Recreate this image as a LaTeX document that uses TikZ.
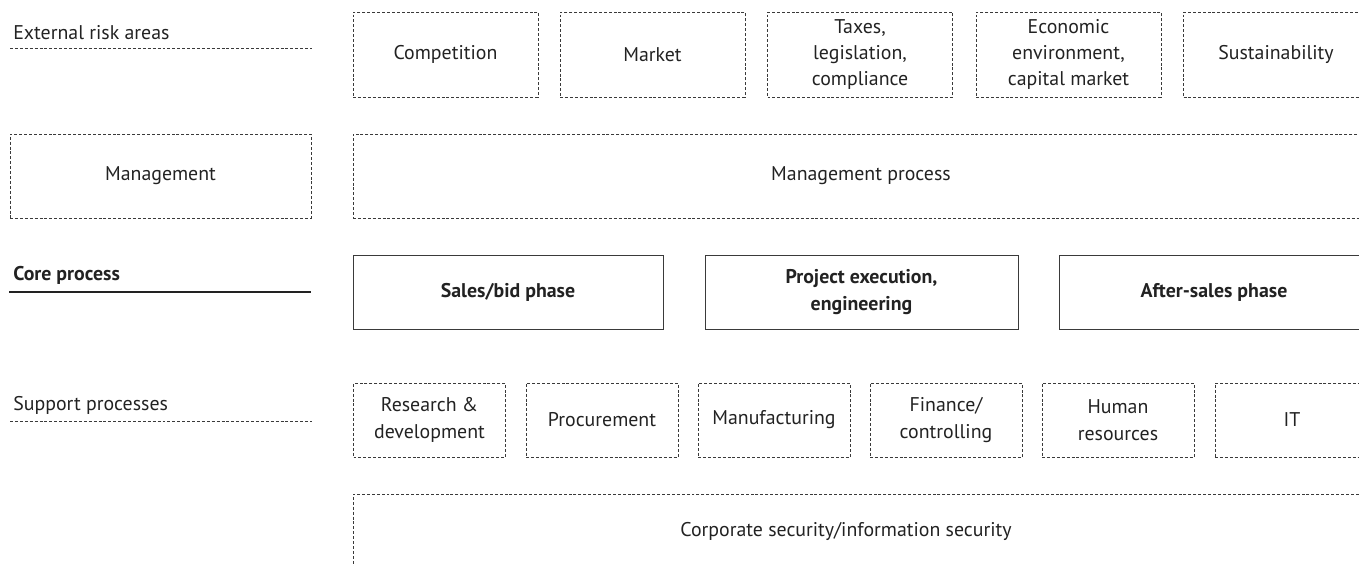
\documentclass[tikz,border=0pt]{standalone}
\usepackage{fontspec}
\setmainfont{PT Sans}
\begin{document}
\definecolor{ink}{HTML}{222222}
\definecolor{rule}{HTML}{3A3A3A}
\begin{tikzpicture}[
  x=0.02cm, y=-0.02cm,
  every node/.style={font=\fontsize{11.3}{15}\selectfont, text=ink},
  dashbox/.style={draw=rule, line width=0.45pt, dash pattern=on 1.7pt off 1.1pt,
    align=center, inner sep=0pt, outer sep=0pt},
  corebox/.style={draw=rule, line width=0.55pt, align=center, inner sep=0pt,
    outer sep=0pt, font=\fontsize{11.3}{15}\selectfont\bfseries},
  dotrule/.style={draw=rule, line width=0.45pt, dash pattern=on 1.7pt off 1.1pt},
  solidrule/.style={draw=ink, line width=0.65pt},
  sidelabel/.style={anchor=base west, inner sep=0pt},
  topw/.style={minimum width=185*0.02cm, minimum height=85*0.02cm},
  supw/.style={minimum width=152*0.02cm, minimum height=74*0.02cm},
  corew/.style={minimum height=74*0.02cm},
]
\useasboundingbox (0,0) rectangle (1359,565);
\clip (0,0) rectangle (1359,565);

% row labels with their rules
\node[sidelabel] (lext) at (13,39) {External risk areas};
\coordinate (lexta) at (10,48);
\coordinate (lextb) at (312,48);
\draw[dotrule] (lexta) -- (lextb);

\node[sidelabel, font=\fontsize{11.3}{15}\selectfont\bfseries] (lcore) at (13,280) {Core process};
\coordinate (lcorea) at (9,292);
\coordinate (lcoreb) at (311,292);
\draw[solidrule] (lcorea) -- (lcoreb);

\node[sidelabel] (lsup) at (13,410) {Support processes};
\coordinate (lsupa) at (10,421);
\coordinate (lsupb) at (312,421);
\draw[dotrule] (lsupa) -- (lsupb);

% external risk areas
\node[dashbox, topw] (comp) at (445.5,54.5) {Competition};
\node[dashbox, topw] (mark) at (652.5,54.5) {Market};
\node[dashbox, topw] (tax)  at (860,54.5) {Taxes,\\legislation,\\compliance};
\node[dashbox, topw] (econ) at (1068.5,54.5) {Economic\\environment,\\capital market};
\node[dashbox, topw] (sust) at (1276,54.5) {Sustainability};

% management
\node[dashbox, minimum width=301*0.02cm, minimum height=84*0.02cm] (mgmt) at (160.5,176) {Management};
\node[dashbox, minimum width=1016*0.02cm, minimum height=84*0.02cm] (mproc) at (861,176) {Management process};

% core process
\node[corebox, corew, minimum width=310*0.02cm] (sales) at (508,292) {Sales/bid phase};
\node[corebox, corew, minimum width=313*0.02cm] (proj) at (861.5,292) {Project execution,\\engineering};
\node[corebox, corew, minimum width=310*0.02cm] (after) at (1214,292) {After-sales phase};

% support processes
\node[dashbox, supw] (rd)   at (429.5,420) {Research \&\\development};
\node[dashbox, supw] (proc) at (602,420) {Procurement};
\node[dashbox, supw] (manu) at (774,420) {Manufacturing};
\node[dashbox, supw] (fin)  at (946,420) {Finance/\\controlling};
\node[dashbox, supw] (hr)   at (1118,420) {Human\\resources};
\node[dashbox, supw, minimum width=154*0.02cm] (it) at (1292,420) {IT};

% corporate security band, running off the page
\node[dashbox, minimum width=1016*0.02cm, minimum height=110*0.02cm] (sec) at (861,549) {};
\node (sectext) at (846,531) {Corporate security/information security};
\end{tikzpicture}
\end{document}
